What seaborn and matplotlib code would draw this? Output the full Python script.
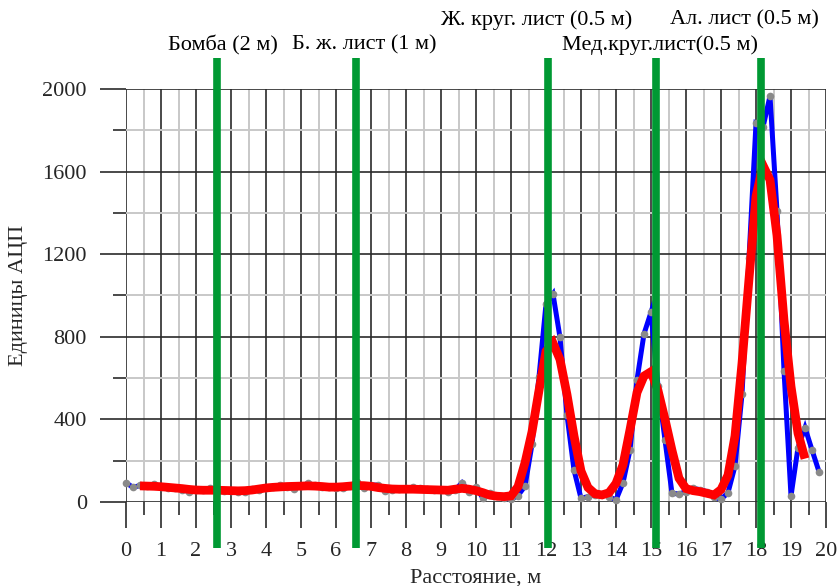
import numpy as np
import pandas as pd
import matplotlib
matplotlib.use("Agg")
import matplotlib.pyplot as plt
from matplotlib.ticker import MultipleLocator
import seaborn as sns

# ---------------- data ----------------
raw_x = [round(0.2 * i, 1) for i in range(100)]
raw_y = [93, 71, 80, 78, 86, 75, 70, 66, 60, 50,
         58, 60, 66, 58, 55, 52, 47, 47, 63, 60,
         68, 72, 82, 75, 63, 78, 90, 80, 75, 72,
         70, 66, 78, 98, 66, 82, 82, 55, 60, 62,
         66, 71, 68, 62, 60, 58, 50, 58, 93, 50,
         71, 18, 42, 30, 20, 13, 31, 77, 279, 607,
         959, 1007, 797, 421, 155, 18, 26, 35, 40, 26,
         10, 93, 252, 591, 814, 919, 562, 300, 42, 39,
         50, 66, 60, 50, 23, 13, 45, 174, 521, 1180,
         1834, 1815, 1966, 1409, 636, 29, 263, 360, 252, 147]

smooth_x = [round(0.4 + 0.2 * i, 1) for i in range(96)]
smooth_y = [78, 77, 76, 74, 71, 68, 65, 61, 58, 57,
            57, 57, 56, 55, 54, 55, 58, 63, 68, 71,
            73, 75, 76, 77, 78, 77, 75, 72, 72, 74,
            77, 80, 79, 76, 70, 66, 63, 62, 62, 62,
            61, 60, 59, 58, 57, 62, 66, 62, 55, 45,
            33, 28, 26, 30, 74, 190, 340, 540, 730, 770,
            690, 520, 320, 150, 70, 40, 34, 45, 90, 180,
            350, 530, 610, 631, 540, 400, 250, 115, 65, 55,
            50, 42, 34, 60, 130, 320, 672, 1080, 1480, 1630,
            1560, 1290, 880, 560, 333, 210]

marker_x = [2.59, 6.56, 12.07, 15.13, 18.13]
marker_labels = ["Бомба (2 м)", "Б. ж. лист (1 м)", "Ж. круг. лист (0.5 м)",
                 "Мед.круг.лист(0.5 м)", "Ал. лист (0.5 м)"]
label_x = [2.77, 6.82, 11.72, 15.26, 17.68]
label_y = [2213, 2213, 2334, 2213, 2334]

x_ticks = list(range(0, 21))
y_ticks = [0, 400, 800, 1200, 1600, 2000]

raw_df = pd.DataFrame({"x": raw_x, "y": raw_y})
smooth_df = pd.DataFrame({"x": smooth_x, "y": smooth_y})

# ---------------- style ----------------
sns.set_style("white")
plt.rcParams["font.family"] = ["Liberation Serif", "DejaVu Serif"]
plt.rcParams["font.size"] = 16

fig = plt.figure(figsize=(8.39, 5.86), dpi=100)
ax = fig.add_axes([126 / 839, 84 / 586, 700 / 839, 413 / 586])

sns.lineplot(data=raw_df, x="x", y="y", ax=ax, color="#0000ff", lw=3.6,
             marker="o", markersize=5.5, markerfacecolor="#8a8a8a",
             markeredgecolor="#8a8a8a", markeredgewidth=0, zorder=3,
             clip_on=False, solid_joinstyle="miter", solid_capstyle="butt")
sns.lineplot(data=smooth_df, x="x", y="y", ax=ax, color="#ff0000", lw=6.3,
             zorder=4, clip_on=False, solid_joinstyle="miter",
             solid_capstyle="butt")

ax.vlines(marker_x, -221, 2150, colors="#009933", lw=5.5, zorder=5, clip_on=False)
for lx, ly, t in zip(label_x, label_y, marker_labels):
    ax.text(lx, ly, t, ha="center", va="center", fontsize=16, color="black")

ax.set_xlim(0, 20)
ax.set_ylim(0, 2000)
ax.set_xticks(x_ticks)
ax.set_yticks(y_ticks)
ax.xaxis.set_minor_locator(MultipleLocator(0.5))
ax.yaxis.set_minor_locator(MultipleLocator(200))

ax.grid(which="major", color="#2a2a2a", lw=1.2)
ax.grid(which="minor", color="#c8c8c8", lw=1.4)
ax.set_axisbelow(True)
for s in ax.spines.values():
    s.set_visible(False)

ax.tick_params(which="major", direction="out", length=18.7, width=1.2,
               color="#2a2a2a", labelsize=16, bottom=True, left=True)
ax.tick_params(axis="x", which="major", pad=10)
ax.tick_params(axis="y", which="major", pad=9.5)
ax.tick_params(which="minor", direction="out", length=9.4, width=1.2,
               color="#2a2a2a", bottom=True, left=True)

ax.set_xlabel("Расстояние, м", fontsize=16)
ax.set_ylabel("Единицы АЦП", fontsize=16)
ax.xaxis.set_label_coords(0.5, -0.16)
ax.yaxis.set_label_coords(-0.14, 0.5)

fig.savefig("out.png", dpi=100)
